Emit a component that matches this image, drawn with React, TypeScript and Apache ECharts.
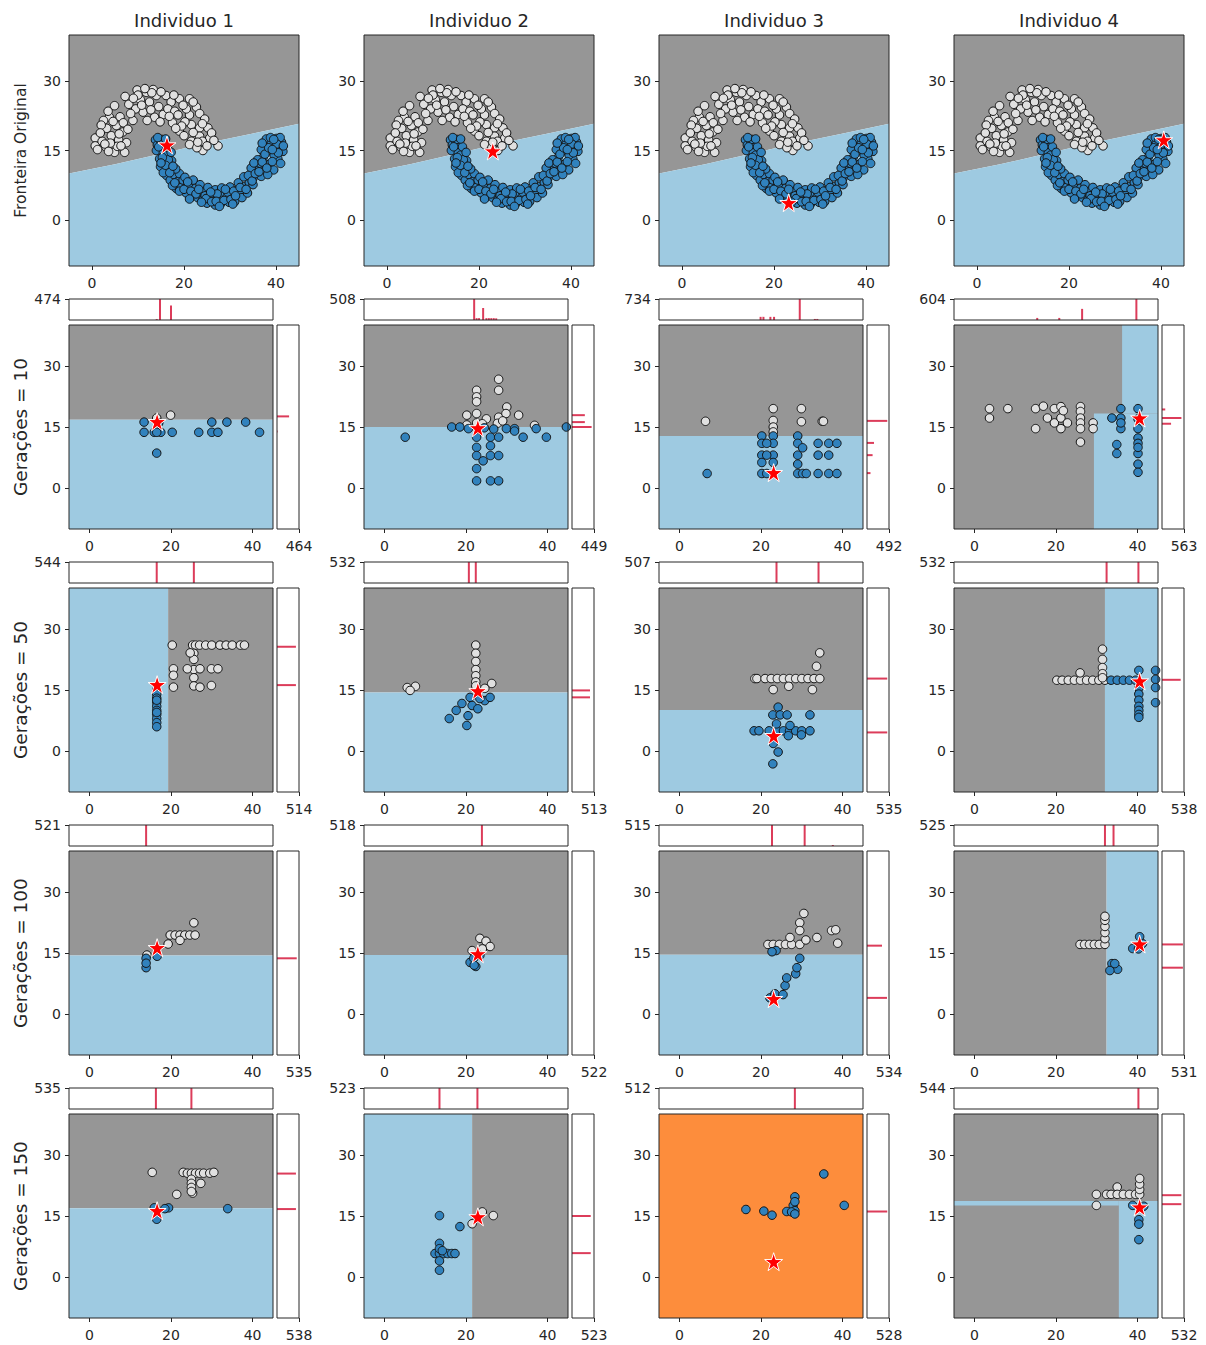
import React, { useEffect, useRef } from "react";
import * as echarts from "echarts";

const COLUMN_TITLES = ["Individuo 1", "Individuo 2", "Individuo 3", "Individuo 4"];
const ROW_LABELS = ["Fronteira Original", "Gerações = 10", "Gerações = 50", "Gerações = 100", "Gerações = 150"];
const X_TICKS = [0, 20, 40];
const Y_TICKS = [0, 15, 30];

// position of each individual (red star)
const STARS = [[16.6, 16.3], [22.9, 14.8], [23.1, 3.8], [40.5, 17.2]];
const ORIG_STARS = [[16.3, 16.2], [23.0, 14.9], [23.2, 3.7], [40.6, 17.3]];

// original dataset (two moons)
const ORIG_WHITE = [
  [0.7, 17.7], [0.7, 16.0], [3.0, 15.8], [4.9, 14.6], [7.1, 14.6], [7.5, 16.7], [4.9, 24.7], [3.8, 22.2], [5.3, 20.4], [6.7, 19.0],
  [2.5, 21.5], [3.2, 19.8], [4.2, 18.2], [5.8, 17.3], [2.0, 20.5], [3.5, 23.5], [4.6, 21.3], [6.1, 22.3], [5.5, 15.9], [2.2, 17.0],
  [6.3, 16.0], [1.8, 18.8], [4.0, 16.6], [6.8, 21.0],
  [7.2, 26.7], [9.8, 28.1], [11.8, 27.6], [13.3, 28.2], [14.0, 26.9], [8.9, 21.5], [11.1, 23.3], [13.6, 22.2], [12.5, 25.5], [10.5, 26.0],
  [8.0, 25.0], [9.5, 24.0], [12.0, 21.5], [14.5, 24.5], [15.5, 22.8], [16.1, 26.9], [17.2, 25.5], [19.0, 26.2], [15.0, 27.7], [13.0, 27.5],
  [10.0, 27.0], [16.5, 24.0], [18.0, 23.5],
  [21.2, 26.2], [18.7, 22.7], [21.2, 22.7], [22.7, 24.4], [23.4, 23.0], [19.0, 19.2], [21.6, 20.6], [23.4, 19.9], [25.2, 19.9], [25.6, 17.7],
  [23.4, 18.1], [21.6, 17.0], [24.1, 15.0], [27.4, 16.0], [21.2, 16.3], [20.2, 21.2], [22.0, 18.9], [24.5, 21.8], [20.5, 24.0], [26.0, 18.8],
  [22.8, 15.6], [19.5, 20.3], [24.0, 17.0], [17.5, 21.0], [20.0, 18.2],
  [1.2, 15.2], [2.8, 16.4], [3.6, 14.8], [5.9, 18.6], [7.8, 19.6], [8.4, 23.0], [10.8, 24.8], [12.8, 23.8], [14.8, 21.2], [17.8, 27.0],
  [19.8, 24.8], [22.0, 25.5], [24.0, 20.8], [26.5, 17.2], [25.0, 16.0], [23.0, 16.8], [18.2, 19.8], [16.8, 22.4], [11.5, 28.4], [9.0, 26.3],
];
const ORIG_BLUE = [
  [13.8, 17.3], [14.2, 16.2], [14.0, 15.0], [15.0, 16.8], [15.5, 14.5], [14.7, 13.2], [15.8, 12.5], [16.0, 14.0], [14.9, 11.5], [16.2, 9.6],
  [16.8, 11.0], [17.3, 12.8], [15.5, 10.2], [17.0, 8.6], [18.3, 6.8], [17.8, 9.8], [18.6, 8.3], [19.4, 7.0], [19.0, 10.0], [16.4, 15.8],
  [15.2, 17.4], [17.5, 7.4], [19.8, 8.6], [18.2, 11.0], [16.6, 13.0],
  [20.5, 5.8], [21.9, 5.4], [21.0, 7.5], [22.5, 6.8], [23.0, 4.8], [24.0, 4.2], [24.2, 6.0], [25.0, 3.6], [25.5, 5.2], [26.3, 4.0],
  [26.8, 3.2], [27.5, 4.5], [28.0, 3.5], [28.5, 5.4], [29.2, 4.7], [29.8, 3.8], [30.5, 5.0], [31.0, 3.9], [31.5, 6.3], [32.1, 6.1],
  [32.6, 4.8], [33.2, 7.2], [33.8, 5.8], [34.2, 8.0], [22.0, 8.6], [23.5, 7.6], [25.2, 7.0], [26.8, 6.5], [28.2, 6.9], [30.0, 7.1],
  [31.8, 8.0], [20.2, 9.2], [24.6, 5.2], [27.2, 5.6], [29.5, 6.0], [30.8, 6.2], [33.0, 9.3], [35.0, 7.6],
  [35.0, 9.0], [36.4, 11.9], [37.9, 16.2], [37.9, 17.5], [40.1, 17.6], [40.8, 15.4], [40.4, 13.2], [35.8, 10.6], [36.8, 9.4], [37.2, 13.5],
  [38.5, 12.0], [38.0, 14.8], [39.0, 16.5], [39.6, 14.0], [41.2, 16.8], [40.9, 17.8], [39.5, 10.8], [36.0, 13.0], [38.8, 17.8], [41.5, 14.8],
  [37.5, 10.8], [34.6, 11.2], [39.2, 12.6], [41.0, 12.2], [38.2, 9.8], [40.2, 16.4], [36.8, 15.2],
  [14.5, 15.8], [15.3, 13.5], [16.0, 11.8], [16.9, 10.2], [17.6, 11.6], [18.0, 8.0], [19.0, 6.2], [20.0, 6.6], [20.8, 8.2], [21.5, 6.2],
  [22.6, 5.6], [23.2, 6.6], [24.8, 4.6], [25.8, 6.0], [26.0, 3.9], [27.0, 4.0], [28.7, 4.2], [29.0, 6.6], [30.2, 4.4], [31.2, 5.2],
  [32.2, 7.0], [33.5, 6.6], [34.0, 9.6], [34.8, 8.4], [35.5, 10.0], [35.2, 12.3], [36.3, 10.4], [37.0, 12.5], [37.6, 14.2], [38.4, 15.6],
  [39.5, 17.4], [41.6, 16.0], [40.5, 14.5], [39.2, 15.2], [37.0, 16.6], [38.0, 11.2], [17.2, 14.6], [15.0, 12.3], [14.3, 17.8], [16.0, 17.5],
  [21.2, 4.5], [23.8, 3.8], [27.7, 2.9], [30.6, 3.4],
];
const ORIG_BOUNDARY = [[-5, 10.0], [5, 12.0], [15, 14.3], [25, 16.6], [35, 18.7], [45, 20.8]];

// regions: [x1, y1, x2, y2, class] class 0 gray, 1 light blue, 2 orange
// top histogram: [x, count]; right histogram: [count, y]; max: [top max, right max]

// ---- Gerações = 10 ----
const G10_1_BLUE = [[13.4, 16.2], [13.4, 13.7], [15.9, 13.7], [17.5, 13.7], [20.3, 13.7], [26.8, 13.7], [30.0, 16.2], [30.0, 13.7], [31.5, 13.7], [33.7, 16.2], [38.3, 16.2], [41.7, 13.7], [16.5, 8.6], [16.5, 13.7], [17.0, 16.0]];
const G10_1_WHITE = [[19.9, 17.9], [16.5, 17.2]];
const G10_1_REGIONS = [[-5, 16.8, 45, 40, 0], [-5, -10, 45, 16.8, 1]];
const G10_1_TOP = [[16.5, 20], [17.3, 474], [20.0, 330]];
const G10_1_RIGHT = [[255, 17.6], [12, 13.9]];
const G10_1_MAX = [474, 464];

const G10_2_BLUE = [[5.1, 12.5], [16.5, 15], [18.5, 15], [20.6, 14.6], [22.6, 12.5], [22.6, 10.0], [22.6, 8.0], [22.6, 4.8], [22.6, 1.8], [24.2, 6.7], [26, 10.4], [26, 8.0], [26, 12.5], [28, 12.5], [28, 8.0], [26, 1.8], [28, 1.8], [29.9, 14.6], [31.9, 14.6], [31.9, 14.0], [34, 12.5], [37.2, 14.6], [39.7, 12.5], [44.6, 15], [24.5, 14.8], [26.8, 14.5]];
const G10_2_WHITE = [[22.6, 24.0], [22.6, 22.4], [22.6, 21.2], [22.6, 18.3], [28, 26.7], [28, 24.0], [30, 19.9], [28, 17.4], [20.2, 17.9], [20.2, 15.5], [25, 17], [32.9, 17.9], [36.8, 15.4], [29.8, 18.3], [27.7, 15.9], [22.6, 16.0], [24.0, 15.8], [29.0, 16.5]];
const G10_2_REGIONS = [[-5, 15, 45, 40, 0], [-5, -10, 45, 15, 1]];
const G10_2_TOP = [[22.0, 508], [22.6, 45], [23.2, 45], [24.2, 290], [25.0, 45], [25.6, 45], [26.2, 45], [26.8, 45], [27.4, 40]];
const G10_2_RIGHT = [[262, 17.9], [262, 16.2], [400, 15.0]];
const G10_2_MAX = [508, 449];

const G10_3_BLUE = [[20.2, 12.8], [20.2, 11.0], [20.2, 8.1], [20.2, 6.3], [20.2, 3.6], [23.0, 12.8], [23.0, 11.0], [23.0, 8.1], [23.0, 6.3], [21.4, 11.0], [21.4, 8.1], [21.4, 3.6], [29.0, 12.8], [29.0, 11.0], [29.0, 8.1], [29.0, 5.9], [29.0, 3.6], [30.2, 9.9], [30.2, 3.6], [34.0, 11.0], [34.0, 8.1], [34.0, 3.6], [36.6, 11.0], [36.6, 8.1], [36.6, 3.6], [38.6, 11.0], [38.6, 3.6], [31.1, 3.6], [6.8, 3.6]];
const G10_3_WHITE = [[6.4, 16.4], [23, 19.5], [23, 16.6], [23, 15.0], [23, 13.8], [29.9, 19.5], [29.9, 16.3], [35.0, 16.4], [35.3, 16.4]];
const G10_3_REGIONS = [[-5, 12.8, 45, 40, 0], [-5, -10, 45, 12.8, 1]];
const G10_3_TOP = [[19.9, 110], [20.6, 110], [22.3, 110], [23.2, 110], [29.5, 734], [33.2, 37], [33.8, 37]];
const G10_3_RIGHT = [[453, 16.5], [157, 11.1], [125, 8.1], [78, 3.7]];
const G10_3_MAX = [734, 492];

const G10_4_BLUE = [[33.7, 17.2], [35.9, 19.5], [35.9, 17.2], [35.9, 14.6], [35.9, 16.0], [34.9, 10.7], [34.9, 8.5], [40.1, 19.5], [40.1, 14.6], [40.1, 12.3], [40.1, 8.5], [40.1, 5.9], [40.1, 3.9], [40.1, 17.0], [40.1, 11.0], [40.1, 10.0]];
const G10_4_WHITE = [[3.7, 19.5], [3.7, 17.2], [8.2, 19.5], [15, 19.5], [15, 14.6], [16.9, 20.1], [17.9, 17.2], [19.6, 19.5], [19.6, 16], [21.2, 20], [21.2, 17.2], [21.2, 14.6], [22.8, 16], [26, 20], [26, 18.8], [26, 17.2], [26, 16], [26, 14.6], [26, 11.3], [29.1, 16], [29.1, 14.6], [21.8, 19.0]];
const G10_4_REGIONS = [[-5, -10, 45, 40, 0], [36.2, 18.3, 45, 40, 1], [29.3, -10, 45, 18.3, 1]];
const G10_4_TOP = [[15.4, 60], [20.8, 60], [26.4, 320], [39.7, 604]];
const G10_4_RIGHT = [[497, 17.2], [232, 15.8], [83, 19.3]];
const G10_4_MAX = [604, 563];

// ---- Gerações = 50 ----
const G50_1_BLUE = [[16.5, 15], [16.5, 14], [16.5, 13], [16.5, 12], [16.5, 11], [16.5, 10], [16.5, 9], [16.5, 8], [16.5, 7], [16.5, 6], [16.5, 12.5], [16.5, 9.5]];
const G50_1_WHITE = [[20.3, 26], [25.3, 26], [26, 26], [27, 26], [28.5, 26], [30, 26], [32, 26], [33.5, 26], [35, 26], [37, 26], [38, 26], [25.6, 24], [25.6, 22.5], [25.6, 20], [25.6, 18], [25.6, 16], [20.6, 20.2], [20.6, 18.6], [20.6, 15.7], [24, 20.2], [27.1, 20.2], [29.9, 20.2], [31.5, 20.2], [27.1, 15.7], [29.9, 16.1], [24.7, 24.1]];
const G50_1_REGIONS = [[-5, -10, 19.3, 40, 1], [19.3, -10, 45, 40, 0]];
const G50_1_TOP = [[16.5, 544], [25.6, 544]];
const G50_1_RIGHT = [[442, 25.6], [442, 16.2]];
const G50_1_MAX = [544, 514];

const G50_2_BLUE = [[15.9, 8.0], [17.6, 10], [19, 11.7], [20.2, 6.3], [20.5, 8.7], [21.5, 11.2], [22.9, 10.4], [24.6, 12.4], [25.9, 13.2], [23.4, 12.9], [21, 13.2]];
const G50_2_WHITE = [[5.6, 15.6], [7.6, 15.9], [6.3, 14.9], [22.4, 26], [22.4, 24], [22.4, 22], [22.4, 20], [22.4, 18.5], [22.4, 17], [22.4, 16], [26.3, 16.6], [24.6, 15.4]];
const G50_2_REGIONS = [[-5, 14.4, 45, 40, 0], [-5, -10, 45, 14.4, 1]];
const G50_2_TOP = [[20.7, 532], [22.4, 532]];
const G50_2_RIGHT = [[420, 14.9], [420, 13.2]];
const G50_2_MAX = [532, 513];

const G50_3_BLUE = [[24.2, 10.8], [22.9, 8.9], [24.7, 8.9], [26.4, 8.9], [32, 8.9], [18.3, 5], [19.5, 5], [22, 5], [24, 5], [25.5, 5], [27, 5], [28.5, 5], [30, 5], [32, 5], [23.8, 6.7], [27.1, 6.3], [29.9, 4], [26.7, 3.8], [23, 1.9], [24.2, -0.2], [22.9, -3.1]];
const G50_3_WHITE = [[18.5, 17.8], [19, 17.8], [21, 17.8], [22.5, 17.8], [24, 17.8], [25.5, 17.8], [27, 17.8], [28.5, 17.8], [30, 17.8], [31.5, 17.8], [33, 17.8], [34.4, 17.8], [34.4, 24.1], [33.6, 20.8], [23, 15.1], [26.8, 15.9], [32.6, 15.1]];
const G50_3_REGIONS = [[-5, 10.1, 45, 40, 0], [-5, -10, 45, 10.1, 1]];
const G50_3_TOP = [[23.8, 507], [34.1, 507]];
const G50_3_RIGHT = [[492, 17.8], [492, 4.6]];
const G50_3_MAX = [507, 535];

const G50_4_BLUE = [[33.5, 17.4], [35, 17.4], [36.5, 17.4], [38, 17.4], [39.5, 17.4], [40.3, 19.8], [40.3, 15.5], [40.3, 14], [40.3, 12.5], [40.3, 11], [40.3, 10], [40.3, 9], [40.3, 8.3], [44.4, 19.8], [44.4, 17.6], [44.4, 15.6], [44.4, 11.9]];
const G50_4_WHITE = [[20.2, 17.4], [21.5, 17.4], [23, 17.4], [24.5, 17.4], [26, 17.4], [27.5, 17.4], [29, 17.4], [30.5, 17.4], [32, 17.4], [25.9, 19.2], [31.4, 25], [31.4, 22.5], [31.4, 20.5], [31.4, 19], [31.4, 18]];
const G50_4_REGIONS = [[-5, -10, 32, 40, 0], [32, -10, 45, 40, 1]];
const G50_4_TOP = [[32.4, 532], [40.2, 532]];
const G50_4_RIGHT = [[457, 17.5]];
const G50_4_MAX = [532, 538];

// ---- Gerações = 100 ----
const G100_1_BLUE = [[13.9, 13.7], [13.9, 11.4], [16.6, 14.2], [13.9, 12.5]];
const G100_1_WHITE = [[19.8, 19.4], [21.0, 19.4], [22.2, 19.4], [23.4, 19.4], [24.6, 19.4], [25.9, 19.4], [25.6, 22.4], [22.2, 18.1], [19.3, 17.2], [14.1, 14.5]];
const G100_1_REGIONS = [[-5, 14.4, 45, 40, 0], [-5, -10, 45, 14.4, 1]];
const G100_1_TOP = [[13.9, 521]];
const G100_1_RIGHT = [[480, 13.7]];
const G100_1_MAX = [521, 535];

const G100_2_BLUE = [[21, 12.7], [22.4, 11.7], [21.9, 13.7], [23.4, 14.4], [22.0, 12.0]];
const G100_2_WHITE = [[23.4, 18.6], [24.9, 17.9], [25.9, 16.6], [21.5, 15.6], [24.0, 16.0]];
const G100_2_REGIONS = [[-5, 14.5, 45, 40, 0], [-5, -10, 45, 14.5, 1]];
const G100_2_TOP = [[23.9, 518]];
const G100_2_RIGHT = [];
const G100_2_MAX = [518, 522];

const G100_3_BLUE = [[22.2, 4.0], [23.4, 5.0], [25.4, 4.8], [25.9, 7.0], [26.3, 8.9], [28.5, 9.9], [28.8, 11.4], [29.5, 13.7], [23.7, 15.6], [22.7, 15.3]];
const G100_3_WHITE = [[21.7, 17.1], [23, 17.1], [24.5, 17.1], [26, 17.1], [27.5, 17.1], [29.5, 17.1], [30.5, 24.7], [29.5, 22.4], [33.7, 18.8], [37.3, 20.5], [38.3, 20.7], [38.8, 17.4], [27.1, 18.8], [31, 18.2], [29.5, 20.5]];
const G100_3_REGIONS = [[-5, 14.6, 45, 40, 0], [-5, -10, 45, 14.6, 1]];
const G100_3_TOP = [[22.7, 515], [30.7, 515], [37.6, 25]];
const G100_3_RIGHT = [[364, 16.8], [486, 4.0]];
const G100_3_MAX = [515, 534];

const G100_4_BLUE = [[33.7, 12.4], [35.1, 11], [33.2, 10.7], [34.4, 12.4], [38.8, 16.1], [40.5, 19], [41.2, 17.3], [40.2, 16.0]];
const G100_4_WHITE = [[25.9, 17.1], [27, 17.1], [28.2, 17.1], [29.4, 17.1], [30.6, 17.1], [32, 17.1], [32, 18.5], [32, 20], [32, 21.5], [32, 23], [32, 24]];
const G100_4_REGIONS = [[-5, -10, 32.4, 40, 0], [32.4, -10, 45, 40, 1]];
const G100_4_TOP = [[32.0, 525], [34.1, 525]];
const G100_4_RIGHT = [[505, 17.1], [505, 11.4]];
const G100_4_MAX = [525, 531];

// ---- Gerações = 150 ----
const G150_1_BLUE = [[33.9, 16.8], [19.4, 17], [16.5, 14.2], [15.9, 17], [18.5, 16.8]];
const G150_1_WHITE = [[15.4, 25.7], [23, 25.7], [24, 25.5], [25, 25.5], [26, 25.5], [27, 25.5], [28, 25.5], [29.5, 25.5], [30.5, 25.7], [21.4, 20.3], [25.3, 20.6], [27.3, 23], [25, 24], [25, 23], [25, 22], [25, 21]];
const G150_1_REGIONS = [[-5, 16.9, 45, 40, 0], [-5, -10, 45, 16.9, 1]];
const G150_1_TOP = [[16.3, 535], [25.0, 535]];
const G150_1_RIGHT = [[463, 25.4], [463, 16.7]];
const G150_1_MAX = [535, 538];

const G150_2_BLUE = [[13.5, 15.1], [18.5, 12.4], [13.5, 8.3], [12.4, 5.8], [13.5, 5.8], [14.5, 5.8], [15.5, 5.8], [16.5, 5.8], [17.3, 5.8], [13.5, 4.0], [13.5, 1.7], [13.5, 7.0], [14.2, 6.5]];
const G150_2_WHITE = [[21.5, 13.1], [26.7, 15.1], [24, 16]];
const G150_2_REGIONS = [[-5, -10, 21.5, 40, 1], [21.5, -10, 45, 40, 0]];
const G150_2_TOP = [[13.5, 523], [22.8, 523]];
const G150_2_RIGHT = [[445, 15.0], [445, 5.9]];
const G150_2_MAX = [523, 523];

const G150_3_BLUE = [[16.3, 16.6], [20.7, 16.2], [22.7, 15.2], [26.3, 16.1], [28.3, 19.7], [27.9, 17.6], [28.3, 16.3], [35.4, 25.3], [40.4, 17.6], [28.3, 18.5], [27.5, 16.0], [28.3, 15.5]];
const G150_3_WHITE = [];
const G150_3_REGIONS = [[-5, -10, 45, 40, 2]];
const G150_3_TOP = [[28.3, 512]];
const G150_3_RIGHT = [[486, 16.1]];
const G150_3_MAX = [512, 528];

const G150_4_BLUE = [[40.3, 14.1], [40.3, 9.2], [38.8, 17.6], [41.5, 17.4], [40.3, 13.0]];
const G150_4_WHITE = [[29.9, 20.3], [29.9, 17.6], [32.4, 20.3], [35.0, 22.1], [33.5, 20.3], [35, 20.3], [36.5, 20.3], [38, 20.3], [39.5, 20.3], [40.5, 20.3], [40.5, 21.5], [40.5, 22.8], [40.5, 24.2]];
const G150_4_REGIONS = [[-5, -10, 45, 40, 0], [-5, 17.6, 35.4, 18.7, 1], [35.4, -10, 45, 18.7, 1]];
const G150_4_TOP = [[40.2, 544]];
const G150_4_RIGHT = [[468, 20.1], [468, 17.9]];
const G150_4_MAX = [544, 532];

const PANELS = [
  [
    { blue: G10_1_BLUE, white: G10_1_WHITE, regions: G10_1_REGIONS, top: G10_1_TOP, right: G10_1_RIGHT, max: G10_1_MAX },
    { blue: G10_2_BLUE, white: G10_2_WHITE, regions: G10_2_REGIONS, top: G10_2_TOP, right: G10_2_RIGHT, max: G10_2_MAX },
    { blue: G10_3_BLUE, white: G10_3_WHITE, regions: G10_3_REGIONS, top: G10_3_TOP, right: G10_3_RIGHT, max: G10_3_MAX },
    { blue: G10_4_BLUE, white: G10_4_WHITE, regions: G10_4_REGIONS, top: G10_4_TOP, right: G10_4_RIGHT, max: G10_4_MAX },
  ],
  [
    { blue: G50_1_BLUE, white: G50_1_WHITE, regions: G50_1_REGIONS, top: G50_1_TOP, right: G50_1_RIGHT, max: G50_1_MAX },
    { blue: G50_2_BLUE, white: G50_2_WHITE, regions: G50_2_REGIONS, top: G50_2_TOP, right: G50_2_RIGHT, max: G50_2_MAX },
    { blue: G50_3_BLUE, white: G50_3_WHITE, regions: G50_3_REGIONS, top: G50_3_TOP, right: G50_3_RIGHT, max: G50_3_MAX },
    { blue: G50_4_BLUE, white: G50_4_WHITE, regions: G50_4_REGIONS, top: G50_4_TOP, right: G50_4_RIGHT, max: G50_4_MAX },
  ],
  [
    { blue: G100_1_BLUE, white: G100_1_WHITE, regions: G100_1_REGIONS, top: G100_1_TOP, right: G100_1_RIGHT, max: G100_1_MAX },
    { blue: G100_2_BLUE, white: G100_2_WHITE, regions: G100_2_REGIONS, top: G100_2_TOP, right: G100_2_RIGHT, max: G100_2_MAX },
    { blue: G100_3_BLUE, white: G100_3_WHITE, regions: G100_3_REGIONS, top: G100_3_TOP, right: G100_3_RIGHT, max: G100_3_MAX },
    { blue: G100_4_BLUE, white: G100_4_WHITE, regions: G100_4_REGIONS, top: G100_4_TOP, right: G100_4_RIGHT, max: G100_4_MAX },
  ],
  [
    { blue: G150_1_BLUE, white: G150_1_WHITE, regions: G150_1_REGIONS, top: G150_1_TOP, right: G150_1_RIGHT, max: G150_1_MAX },
    { blue: G150_2_BLUE, white: G150_2_WHITE, regions: G150_2_REGIONS, top: G150_2_TOP, right: G150_2_RIGHT, max: G150_2_MAX },
    { blue: G150_3_BLUE, white: G150_3_WHITE, regions: G150_3_REGIONS, top: G150_3_TOP, right: G150_3_RIGHT, max: G150_3_MAX },
    { blue: G150_4_BLUE, white: G150_4_WHITE, regions: G150_4_REGIONS, top: G150_4_TOP, right: G150_4_RIGHT, max: G150_4_MAX },
  ],
];

// ---- styling / layout ----
const REGION_COLORS = ["#969696", "#9ecae1", "#fd8d3c"];
const BLUE_PT = "#3182bd";
const WHITE_PT = "#e0e0e0";
const HIST_RED = "#dc3c5a";
const INK = "#262626";
const FONT = "DejaVu Sans";
const STAR_PATH = "path://M50,0 L61.2,34.5 L97.6,34.5 L68.2,55.9 L79.4,90.5 L50,69.1 L20.6,90.5 L31.8,55.9 L2.4,34.5 L38.8,34.5 Z";

const COL_X = [69, 364, 659, 954];
const ROW1_TOP = 35;
const ROW1_W = 230;
const ROW1_H = 231;
const ROW_TOPS = [325, 588, 851, 1114];
const MAIN_SIZE = 204;
const HIST_SIZE = 21;
const HIST_GAP = 5;

function axisDef(min: number, max: number, ticks: number[] | null, margin: number) {
  return {
    type: "value",
    min,
    max,
    axisLine: { show: false, onZero: false },
    splitLine: { show: false },
    axisTick: ticks
      ? { show: true, length: 4, inside: false, customValues: ticks, lineStyle: { color: INK, width: 1 } }
      : { show: false },
    axisLabel: ticks
      ? { show: true, customValues: ticks, margin, color: INK, fontSize: 14, fontFamily: FONT }
      : { show: false },
  };
}

function buildOption() {
  const grid: any[] = [];
  const xAxis: any[] = [];
  const yAxis: any[] = [];
  const series: any[] = [];
  const graphic: any[] = [];
  let gi = 0;

  const addGrid = (rect: any, xa: any, ya: any) => {
    grid.push({ ...rect, show: true, borderColor: INK, borderWidth: 1, backgroundColor: "transparent", z: 5 });
    xAxis.push({ ...xa, gridIndex: gi });
    yAxis.push({ ...ya, gridIndex: gi });
    return gi++;
  };

  const rectRegions = (g: number, regions: number[][]) => ({
    type: "custom",
    xAxisIndex: g,
    yAxisIndex: g,
    z: 1,
    silent: true,
    data: regions,
    renderItem: (params: any, api: any) => {
      const a = api.coord([api.value(0), api.value(1)]);
      const b = api.coord([api.value(2), api.value(3)]);
      return {
        type: "rect",
        shape: {
          x: Math.min(a[0], b[0]),
          y: Math.min(a[1], b[1]),
          width: Math.abs(b[0] - a[0]),
          height: Math.abs(b[1] - a[1]),
        },
        style: { fill: REGION_COLORS[api.value(4)] },
      };
    },
  });

  const scatter = (g: number, data: number[][], color: string) => ({
    type: "scatter",
    xAxisIndex: g,
    yAxisIndex: g,
    z: 2,
    silent: true,
    symbol: "circle",
    symbolSize: 8.5,
    data,
    itemStyle: { color, borderColor: "#141414", borderWidth: 1, opacity: 1 },
  });

  const star = (g: number, p: number[]) => ({
    type: "scatter",
    xAxisIndex: g,
    yAxisIndex: g,
    z: 3,
    silent: true,
    symbol: STAR_PATH,
    symbolSize: 18,
    data: [p],
    itemStyle: { color: "#ff0000", borderColor: "#ffffff", borderWidth: 1, opacity: 1 },
  });

  // Row 1: original boundary
  const grayPoly = [[-5, 40], ...ORIG_BOUNDARY, [45, 40]];
  const bluePoly = [[-5, -10], ...ORIG_BOUNDARY, [45, -10]];
  const origPolys = [grayPoly, bluePoly];
  for (let c = 0; c < 4; c++) {
    const g = addGrid(
      { left: COL_X[c], top: ROW1_TOP, width: ROW1_W, height: ROW1_H },
      axisDef(-5, 45, X_TICKS, 10),
      axisDef(-10, 40, Y_TICKS, 8)
    );
    series.push({
      type: "custom",
      xAxisIndex: g,
      yAxisIndex: g,
      z: 1,
      silent: true,
      data: [[0, 0], [0, 0]],
      renderItem: (params: any, api: any) => ({
        type: "polygon",
        shape: { points: origPolys[params.dataIndex].map((p) => api.coord(p)) },
        style: { fill: REGION_COLORS[params.dataIndex === 0 ? 0 : 1] },
      }),
    });
    series.push(scatter(g, ORIG_WHITE, WHITE_PT));
    series.push(scatter(g, ORIG_BLUE, BLUE_PT));
    series.push(star(g, ORIG_STARS[c]));

    graphic.push({
      type: "text",
      x: COL_X[c] + ROW1_W / 2,
      y: 20,
      style: {
        text: COLUMN_TITLES[c],
        fontSize: 18,
        fontFamily: FONT,
        fill: INK,
        align: "center",
        verticalAlign: "middle",
        textAlign: "center",
        textVerticalAlign: "middle",
      },
    });
  }

  // Rows 2-5
  for (let r = 0; r < 4; r++) {
    const top = ROW_TOPS[r];
    for (let c = 0; c < 4; c++) {
      const p = PANELS[r][c];
      const left = COL_X[c];
      const g = addGrid(
        { left, top, width: MAIN_SIZE, height: MAIN_SIZE },
        axisDef(-5, 45, X_TICKS, 10),
        axisDef(-10, 40, Y_TICKS, 8)
      );
      series.push(rectRegions(g, p.regions));
      series.push(scatter(g, p.white, WHITE_PT));
      series.push(scatter(g, p.blue, BLUE_PT));
      series.push(star(g, STARS[c]));

      // top histogram
      const gt = addGrid(
        { left, top: top - HIST_GAP - HIST_SIZE, width: MAIN_SIZE, height: HIST_SIZE },
        axisDef(-5, 45, null, 8),
        axisDef(0, p.max[0], [p.max[0]], 8)
      );
      series.push({
        type: "custom",
        xAxisIndex: gt,
        yAxisIndex: gt,
        z: 2,
        silent: true,
        clip: true,
        data: p.top,
        renderItem: (params: any, api: any) => {
          const a = api.coord([api.value(0), 0]);
          const b = api.coord([api.value(0), api.value(1)]);
          return { type: "line", shape: { x1: a[0], y1: a[1], x2: b[0], y2: b[1] }, style: { stroke: HIST_RED, lineWidth: 2 } };
        },
      });

      // right histogram
      const gr = addGrid(
        { left: left + MAIN_SIZE + HIST_GAP - 1, top, width: HIST_SIZE + 1, height: MAIN_SIZE },
        axisDef(0, p.max[1], [p.max[1]], 10),
        axisDef(-10, 40, null, 8)
      );
      series.push({
        type: "custom",
        xAxisIndex: gr,
        yAxisIndex: gr,
        z: 2,
        silent: true,
        clip: true,
        data: p.right,
        renderItem: (params: any, api: any) => {
          const a = api.coord([0, api.value(1)]);
          const b = api.coord([api.value(0), api.value(1)]);
          return { type: "line", shape: { x1: a[0], y1: a[1], x2: b[0], y2: b[1] }, style: { stroke: HIST_RED, lineWidth: 2 } };
        },
      });
    }
  }

  // row labels
  const rowCenters = [ROW1_TOP + ROW1_H / 2, ...ROW_TOPS.map((t) => t + MAIN_SIZE / 2)];
  ROW_LABELS.forEach((label, i) => {
    graphic.push({
      type: "text",
      x: i === 0 ? 21 : 20,
      y: rowCenters[i],
      rotation: Math.PI / 2,
      style: {
        text: label,
        fontSize: i === 0 ? 15.5 : 18.5,
        fontFamily: FONT,
        fill: INK,
        align: "center",
        verticalAlign: "middle",
        textAlign: "center",
        textVerticalAlign: "middle",
      },
    });
  });

  return {
    animation: false,
    backgroundColor: "#ffffff",
    grid,
    xAxis,
    yAxis,
    series,
    graphic: { elements: graphic },
  };
}

export default function App() {
  const ref = useRef<HTMLDivElement>(null);
  useEffect(() => {
    document.body.style.margin = "0";
    const chart = echarts.init(ref.current as HTMLDivElement, null, { renderer: "svg", width: 1206, height: 1345 });
    chart.setOption(buildOption() as any);
    return () => chart.dispose();
  }, []);
  return (
    <div
      ref={ref}
      style={{ position: "absolute", left: 0, top: 0, width: 1206, height: 1345, background: "#ffffff" }}
    />
  );
}
